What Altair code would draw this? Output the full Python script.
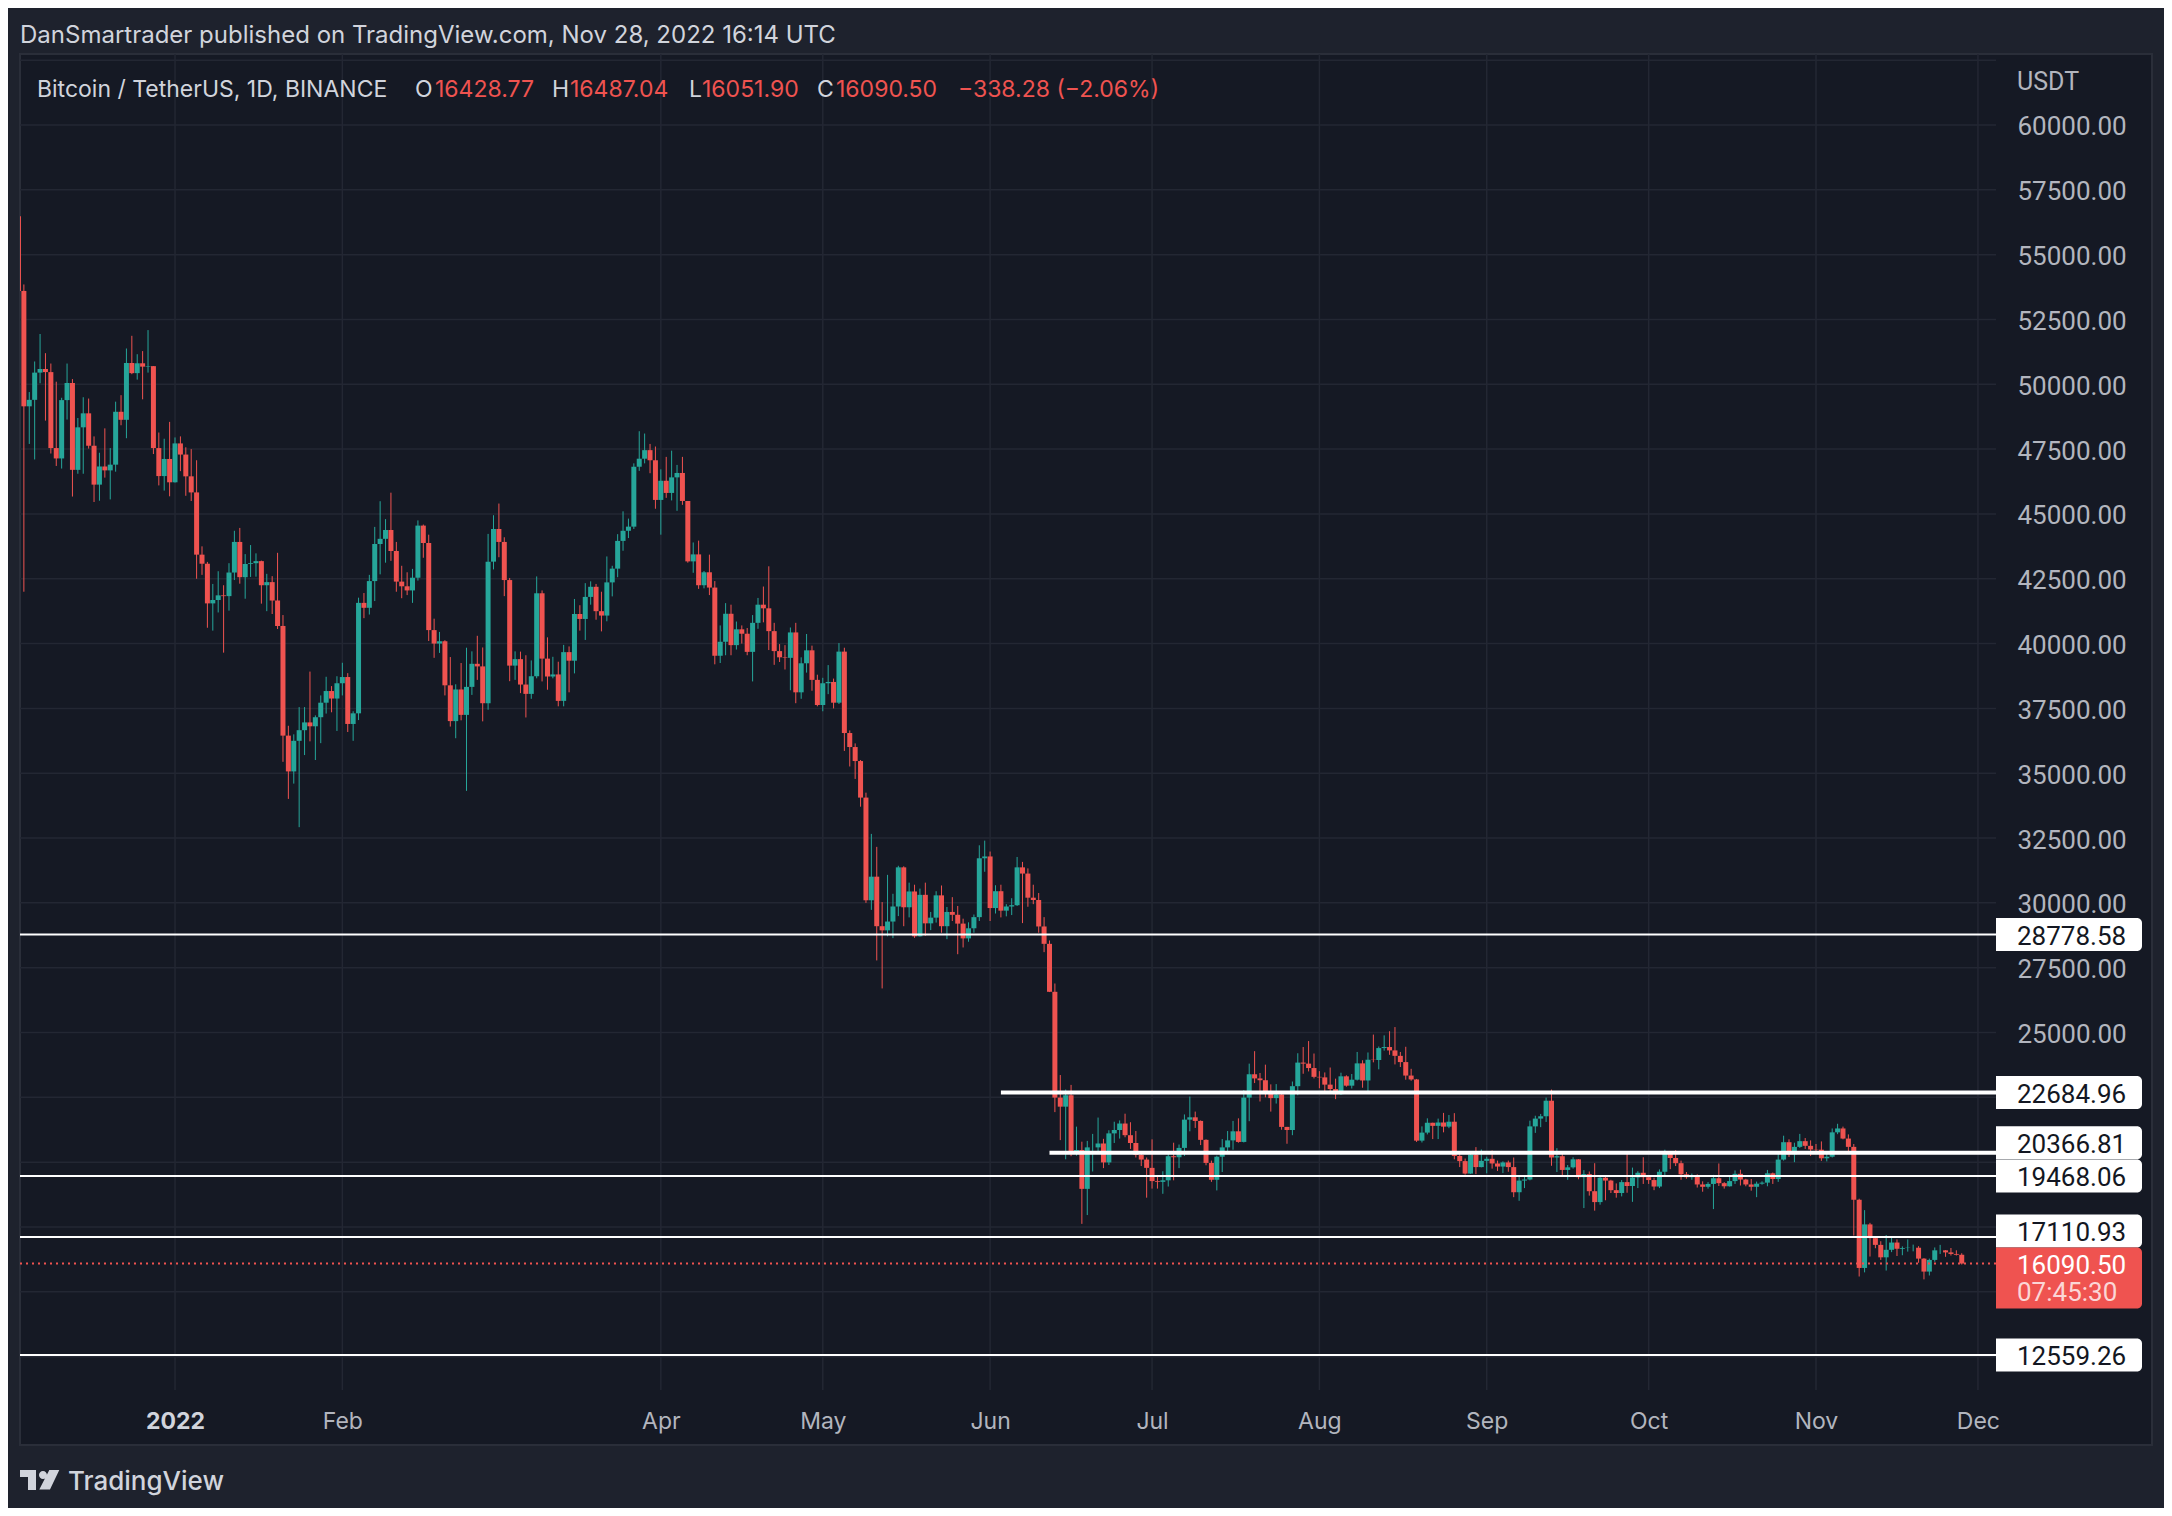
import altair as alt
import pandas as pd
import numpy as np

# ---------------- data ----------------
START = "2021-12-03"
OPEN0 = 56480.0
CLOSE = [
    # Dec 2021 (3-31)
    53600, 49150, 49400, 50450, 50590, 50470, 47540, 47140, 49390, 50050,
    46700, 48340, 48880, 47630, 46130, 46830, 46680, 46900, 48940, 48630,
    50820, 50430, 50810, 50680, 50700, 47540, 46460, 47120, 46220,
    # Jan 2022
    47720, 47290, 46450, 45830, 43430, 43080, 41550, 41680, 41860, 41830,
    42740, 43920, 42560, 43070, 43100, 43180, 42250, 42370, 41660, 40680,
    36450, 35070, 36250, 36660, 36960, 36810, 37160, 37720, 38170, 37880, 38470,
    # Feb
    38710, 36900, 37310, 41570, 41380, 42410, 43840, 44040, 44380, 43570,
    42390, 42210, 42050, 42540, 44550, 43880, 40520, 40000, 40090, 38390,
    37010, 38230, 37250, 38330, 39220, 39120, 37700, 43160,
    # Mar
    44420, 43920, 42450, 39150, 39400, 38420, 38060, 38740, 41940, 39420,
    38730, 38810, 37790, 39670, 39340, 41140, 40950, 41800, 42190, 41250,
    41080, 42360, 42890, 43960, 44350, 44510, 46820, 47130, 47460, 47070, 45540,
    # Apr
    46280, 45810, 46410, 46580, 45500, 43170, 43440, 42250, 42750, 42160,
    39530, 40070, 41150, 39940, 40550, 40380, 39680, 40800, 41500, 41360,
    40480, 39710, 39470, 39450, 40430, 38120, 39240, 39740, 38600, 37630,
    # May
    38470, 38520, 37720, 39690, 36550, 36010, 35470, 34060, 30100, 31010,
    29100, 28940, 29280, 29860, 31370, 29830, 30440, 28710, 30310, 29210,
    29430, 30290, 29100, 29650, 29540, 29200, 28630, 29020, 29450, 31720, 31790,
    # Jun
    29800, 30450, 29700, 29860, 29910, 31370, 31130, 30200, 30110, 29090,
    28420, 26570, 22490, 22140, 22580, 20400, 20470, 18970, 20570, 20570,
    20720, 19990, 21110, 21240, 21490, 21040, 20740, 20280, 20100, 19780,
    # Jul
    19270, 19240, 19300, 20230, 20190, 20550, 21640, 21730, 21590, 20860,
    19970, 19320, 20210, 20570, 20840, 21190, 20780, 22490, 23390, 23230,
    23160, 22710, 22470, 22610, 21360, 21240, 22930, 23840, 23800, 23630, 23290,
    # Aug
    23270, 22990, 22820, 22620, 23310, 22950, 23180, 23810, 23150, 23950,
    23940, 24400, 24440, 24310, 24100, 23860, 23340, 23190, 20830, 21140,
    21520, 21400, 21530, 21370, 21560, 20240, 20040, 19560, 20290, 19810, 20050,
    # Sep
    20130, 19950, 19830, 19990, 19810, 18840, 19290, 19330, 21380, 21680,
    21770, 22370, 20180, 20230, 19700, 19800, 20110, 19420, 19540, 18880,
    18460, 19400, 19290, 18920, 18810, 19230, 19080, 19410, 19590, 19420,
    # Oct
    19310, 19060, 19630, 20340, 20160, 19960, 19530, 19420, 19450, 19140,
    19050, 19160, 19380, 19190, 19070, 19270, 19550, 19330, 19140, 19050,
    19170, 19210, 19570, 19350, 20100, 20770, 20300, 20590, 20810, 20630, 20490,
    # Nov
    20480, 20150, 20210, 21150, 21300, 20910, 20590, 18550, 15920, 17600,
    17070, 16810, 16330, 16620, 16900, 16660, 16690, 16700, 16700, 16280,
    15780, 16230, 16600, 16600, 16520, 16460, 16428.77, 16090.50,
]
HIGH = [
    # Dec 2021
    57600, 53850, 49700, 50880, 51940, 51200, 50800, 50100, 49480, 50800,
    50200, 48700, 49500, 49450, 47990, 47360, 48300, 47540, 49330, 49580,
    51380, 51870, 51160, 51280, 52090, 50700, 48140, 47900, 48550,
    # Jan
    47950, 47990, 47570, 47500, 47070, 43750, 43150, 42300, 42790, 42250,
    43100, 44350, 44460, 43450, 43800, 43480, 43200, 42690, 42600, 43500,
    41100, 36830, 36500, 37550, 37550, 38920, 37230, 38000, 38720, 38360, 38740,
    # Feb
    39260, 38860, 37390, 41770, 41950, 42650, 44500, 45490, 44800, 45820,
    43920, 43000, 42750, 42880, 44750, 44590, 44200, 40960, 40450, 40130,
    39480, 38430, 39250, 39840, 39700, 40300, 39850, 44230,
    # Mar
    44950, 45400, 44100, 42530, 39700, 39690, 39550, 39350, 42590, 42050,
    40240, 39490, 39300, 39950, 39890, 41720, 41480, 42330, 42400, 42300,
    42000, 43360, 43000, 44220, 45100, 44820, 46950, 48190, 48100, 47700, 47600,
    # Apr
    46720, 47200, 47440, 46890, 47200, 45500, 43900, 43970, 42800, 43430,
    42410, 40700, 41560, 41500, 40850, 40700, 40600, 41100, 41760, 42200,
    42980, 40800, 39980, 39940, 40620, 40800, 39470, 40370, 39920, 38800,
    # May
    38680, 39170, 38650, 40020, 39840, 36650, 36150, 35510, 34250, 32660,
    32160, 30030, 31080, 30350, 31430, 31410, 30780, 30700, 30550, 30780,
    29650, 30450, 30670, 29840, 30220, 29880, 29390, 29250, 29550, 32220, 32400,
    # Jun
    31980, 30680, 30700, 29950, 30180, 31770, 31580, 31330, 30700, 30380,
    29450, 28550, 26890, 23360, 22800, 22980, 21370, 20790, 20820, 21090,
    21720, 20900, 21230, 21560, 21610, 21870, 21540, 21200, 20430, 20180,
    # Jul
    20880, 19440, 19650, 20350, 20750, 20680, 21840, 22530, 21950, 21610,
    20880, 20060, 20250, 20890, 21200, 21590, 21690, 22780, 23800, 24280,
    23440, 23760, 23000, 23010, 22670, 21360, 23110, 24200, 24440, 24670, 24190,
    # Aug
    23510, 23460, 23650, 23220, 23450, 23350, 23400, 24250, 23930, 24230,
    24920, 24460, 24890, 25050, 25210, 24250, 24450, 23600, 23210, 21380,
    21690, 21520, 21680, 21900, 21820, 21890, 20400, 20140, 20430, 20580, 20490,
    # Sep
    20210, 20450, 20060, 20030, 20060, 20180, 19460, 19450, 21600, 21790,
    21860, 22490, 22800, 20540, 20330, 19890, 20190, 20120, 19690, 19640,
    19960, 19500, 19500, 19320, 19180, 19310, 20390, 19790, 19650, 20190,
    # Oct
    19480, 19400, 19720, 20480, 20370, 20460, 20060, 19620, 19560, 19530,
    19260, 19230, 19510, 19950, 19230, 19430, 19680, 19710, 19360, 19350,
    19250, 19260, 19700, 19600, 20420, 21020, 20880, 20750, 21090, 20930, 20840,
    # Nov
    20700, 20800, 20390, 21300, 21480, 21370, 21070, 20700, 18590, 18150,
    17660, 17150, 16950, 17190, 17130, 17020, 16750, 17020, 16820, 16760,
    16300, 16280, 16710, 16810, 16610, 16690, 16600, 16487.04,
]
LOW = [
    # Dec 2021
    51680, 42000, 47700, 47100, 50040, 48600, 47330, 46850, 46750, 48640,
    45670, 46550, 46550, 47520, 45460, 45510, 46400, 45560, 46630, 48420,
    47920, 50390, 50180, 49420, 50450, 47310, 46100, 45900, 45680,
    # Jan
    46210, 46650, 45700, 45500, 42500, 42650, 40610, 40500, 41200, 39650,
    41270, 42450, 42310, 41730, 42570, 42580, 41540, 41250, 41140, 40560,
    35440, 34010, 34600, 32920, 35700, 36230, 35510, 36160, 37300, 37350, 36630,
    # Feb
    38000, 36590, 36250, 37050, 40980, 41120, 41640, 42670, 43120, 43190,
    42000, 41750, 41870, 41570, 42430, 43310, 40100, 39450, 39640, 38000,
    36800, 36350, 37040, 34320, 38020, 38600, 37000, 37450,
    # Mar
    42860, 43330, 41830, 38550, 38600, 38090, 37150, 37870, 38660, 38540,
    38220, 38660, 37580, 37580, 38120, 38850, 40500, 40140, 41500, 40920,
    40470, 40860, 41820, 42560, 43580, 44070, 44420, 46660, 46950, 46570, 45200,
    # Apr
    44200, 45620, 45520, 45120, 45350, 43120, 42730, 42110, 42130, 41870,
    39200, 39250, 39550, 39550, 39770, 40000, 39550, 38540, 40570, 40820,
    39750, 39180, 39290, 39000, 38200, 37700, 37870, 38880, 38180, 37580,
    # May
    37390, 38050, 37500, 37670, 35860, 35260, 34780, 33710, 30000, 29730,
    27780, 26700, 28710, 28640, 29490, 29100, 29440, 28650, 28700, 28730,
    28950, 29240, 28850, 28600, 29300, 28020, 28280, 28500, 28850, 29300, 31200,
    # Jun
    29300, 29590, 29440, 29480, 29530, 29880, 29220, 29850, 29950, 28850,
    28100, 26560, 21930, 20850, 20110, 20230, 20250, 17620, 17960, 19640,
    20350, 19770, 19890, 20740, 20910, 20960, 20510, 20180, 19850, 18630,
    # Jul
    18980, 18980, 18780, 19060, 19300, 19770, 20240, 21190, 21320, 20660,
    19880, 19240, 18910, 19620, 20390, 20480, 20750, 20760, 21580, 23050,
    22340, 22500, 21950, 22260, 21250, 20710, 21040, 22580, 23410, 23500, 23230,
    # Aug
    22850, 22660, 22680, 22430, 22590, 22910, 22840, 23150, 22870, 22660,
    23850, 23580, 24300, 24140, 23770, 23670, 23180, 23140, 20780, 20760,
    21070, 20890, 20890, 21150, 21310, 20110, 19810, 19520, 19550, 19540, 19800,
    # Sep
    19570, 19750, 19660, 19580, 19630, 18650, 18510, 19000, 19300, 21130,
    21350, 21550, 19860, 19620, 19500, 19320, 19750, 19340, 18230, 18710,
    18130, 18360, 18530, 18810, 18630, 18680, 18820, 18470, 19000, 19160,
    # Oct
    19160, 18920, 19000, 19490, 19730, 19850, 19320, 19360, 19320, 19020,
    18860, 18980, 18190, 19080, 18980, 19060, 19160, 19100, 19070, 18900,
    18650, 19130, 19070, 19160, 19240, 20060, 20200, 20000, 20550, 20510, 20240,
    # Nov
    20330, 20050, 20030, 20180, 21080, 20880, 20380, 17170, 15590, 15750,
    16360, 16680, 16230, 15820, 16530, 16380, 16410, 16550, 16560, 16120,
    15480, 15630, 16160, 16460, 16350, 16400, 16400, 16051.90,
]

LEVELS = [28778.58, 22684.96, 20366.81, 19468.06, 17110.93, 12559.26]
LEVEL_FROM = [None, "2022-06-03", "2022-06-12", None, None, None]

GRID_PRICES = [12500, 15000, 17500, 20000, 22500, 25000, 27500, 30000, 32500, 35000,
               37500, 40000, 42500, 45000, 47500, 50000, 52500, 55000, 57500, 60000, 62500]
LABEL_PRICES = [25000, 27500, 30000, 32500, 35000, 37500, 40000, 42500, 45000,
                47500, 50000, 52500, 55000, 57500, 60000]
MONTH_TICKS = ["2022-01-01", "2022-02-01", "2022-04-01", "2022-05-01", "2022-06-01",
               "2022-07-01", "2022-08-01", "2022-09-01", "2022-10-01", "2022-11-01",
               "2022-12-01"]

HEADER = "DanSmartrader published on TradingView.com, Nov 28, 2022 16:14 UTC"
SYMBOL = "Bitcoin / TetherUS, 1D, BINANCE"
CHANGE_TEXT = "\u2212338.28 (\u22122.06%)"
COUNTDOWN = "07:45:30"
CURRENCY = "USDT"
BRAND = "TradingView"

# ---------------- styling ----------------
FONT = "Inter"
NUMFONT = "Roboto"
NUMSIZE = 26
TXT = "#d1d4dc"
AXIS_TXT = "#b2b5be"
GREEN = "#26a69a"
RED = "#ef5350"
PANE = "#151924"
OUTER = "#1e222d"
GRID = "#232733"
BORDER = "#2a2e39"
PLOT_W = 1976
PLOT_H = 1334
LOGO_PATH = ("M -1 -0.513 L -0.179 -0.513 L -0.179 0.513 L -0.590 0.513 L -0.590 -0.154 "
             "L -1 -0.154 Z M 0.503 -0.513 L 1.015 -0.513 L 0.538 0.487 L -0.010 0.487 Z "
             "M 0.384 -0.256 A 0.205 0.205 0 1 1 -0.026 -0.256 "
             "A 0.205 0.205 0 1 1 0.384 -0.256 Z")


def ms(s):
    return int(pd.Timestamp(s, tz="UTC").value // 10**6)


dates = pd.date_range(START, periods=len(CLOSE), freq="D", tz="UTC")
opens = [OPEN0] + CLOSE[:-1]
df = pd.DataFrame({
    "t": dates.asi8 // 10**6,
    "open": opens, "high": HIGH, "low": LOW, "close": CLOSE,
})
df["dir"] = np.where(df["close"] >= df["open"], "up", "down")

XS = alt.Scale(type="utc", nice=False, padding=0, domain=[
    alt.DateTime(year=2021, month=12, date=3, hours=6, minutes=48, utc=True),
    alt.DateTime(year=2022, month=12, date=4, hours=8, minutes=18, utc=True)])
YS = alt.Scale(domain=[11213, 62661], zero=False, nice=False, padding=0)

AX_X = alt.Axis(
    values=[alt.DateTime(year=int(m[:4]), month=int(m[5:7]), date=1, utc=True) for m in MONTH_TICKS],
    labelExpr="utcFormat(datum.value, '%b') == 'Jan' ? utcFormat(datum.value, '%Y') : utcFormat(datum.value, '%b')",
    grid=False, domain=False, ticks=False, labelPadding=20, labelFontSize=23,
    labelFont=FONT, labelColor={"condition": {"test": "utcmonth(datum.value) == 0", "value": TXT}, "value": AXIS_TXT},
    labelFontWeight={"condition": {"test": "utcmonth(datum.value) == 0", "value": "bold"}, "value": "normal"},
    labelOverlap=False, labelFlush=False, labelBound=False, title=None, zindex=2)
AX_Y = alt.Axis(
    orient="right", values=LABEL_PRICES, format=".2f", grid=False, domain=False, ticks=False,
    labelPadding=21, labelAlign="left", labelBaseline="middle", labelFontSize=NUMSIZE,
    labelOffset=2, labelFont=NUMFONT, labelColor=AXIS_TXT, labelOverlap=False, labelFlush=False,
    labelBound=False, title=None, zindex=2)

X = lambda f: alt.X(f, scale=XS, axis=AX_X, title=None)
Y = lambda f: alt.Y(f, scale=YS, axis=AX_Y, title=None)

ONE = pd.DataFrame({"k": [0]})


def txt(s, x, y, size, color, align="left", baseline="alphabetic", weight="normal", font=FONT):
    return alt.Chart(ONE).mark_text(
        text=s, align=align, baseline=baseline, fontSize=size, color=color,
        font=font, fontWeight=weight).encode(x=alt.value(x), y=alt.value(y))


pane = alt.Chart(ONE).mark_rect(color=PANE, stroke=BORDER, strokeWidth=2).encode(
    x=alt.value(0), x2=alt.value(2132), y=alt.value(-2), y2=alt.value(1389))

hgrid = alt.Chart(pd.DataFrame({"p": GRID_PRICES})).mark_rule(
    color=GRID, strokeWidth=1.5).encode(y=Y("p:Q"), x=alt.value(0), x2=alt.value(PLOT_W))
vgrid = alt.Chart(pd.DataFrame({"t": [ms(m) for m in MONTH_TICKS]})).mark_rule(
    color=GRID, strokeWidth=1.5).encode(x=X("t:T"), y=alt.value(-2), y2=alt.value(PLOT_H))

color = alt.Color("dir:N", scale=alt.Scale(domain=["up", "down"], range=[GREEN, RED]), legend=None)
base = alt.Chart(df)
wicks = base.mark_rule(strokeWidth=1, clip=True).encode(
    x=X("t:T"), y=Y("low:Q"), y2="high:Q", color=color)
bodies = base.mark_bar(size=5, clip=True).encode(
    x=X("t:T"), y=Y("open:Q"), y2="close:Q", color=color)

lv = pd.DataFrame({"p": LEVELS, "lab": [f"{v:.2f}" for v in LEVELS],
                   "t0": [ms(s) if s else None for s in LEVEL_FROM]})
full_lv = lv[lv["t0"].isna()]
part_lv = lv[lv["t0"].notna()]
lines_full = alt.Chart(full_lv).mark_rule(color="white", strokeWidth=2).encode(
    y=Y("p:Q"), x=alt.value(0), x2=alt.value(PLOT_W))
lines_part = alt.Chart(part_lv).mark_rule(color="white", strokeWidth=4).encode(
    y=Y("p:Q"), x=X("t0:T"), x2=alt.value(PLOT_W))

CUR = CLOSE[-1]
cur_df = pd.DataFrame({"p": [CUR], "lab": [f"{CUR:.2f}"]})
cur_line = alt.Chart(cur_df).mark_rule(color=RED, strokeWidth=2, strokeDash=[2, 4]).encode(
    y=Y("p:Q"), x=alt.value(0), x2=alt.value(PLOT_W))

NUDGE = {20366.81: -10, 17110.93: -6}
box_layers = []
for _, r in lv.iterrows():
    off = NUDGE.get(r["p"], 0)
    d = pd.DataFrame({"p": [r["p"]], "lab": [r["lab"]]})
    box_layers.append(alt.Chart(d).mark_rect(
        color="white", cornerRadiusTopRight=5, cornerRadiusBottomRight=5,
        yOffset=off - 16.5, y2Offset=off + 16.5).encode(
        y=Y("p:Q"), y2="p:Q", x=alt.value(1976), x2=alt.value(2122)))
    box_layers.append(alt.Chart(d).mark_text(
        align="left", baseline="middle", fontSize=NUMSIZE, font=NUMFONT, color="#131722",
        dy=off + 2).encode(y=Y("p:Q"), x=alt.value(1997), text="lab:N"))

cur_box = alt.Chart(cur_df).mark_rect(
    color=RED, cornerRadiusTopRight=5, cornerRadiusBottomRight=5,
    yOffset=-16, y2Offset=45).encode(y=Y("p:Q"), y2="p:Q", x=alt.value(1976), x2=alt.value(2122))
cur_txt = alt.Chart(cur_df).mark_text(
    align="left", baseline="middle", fontSize=NUMSIZE, font=NUMFONT, color="white", dy=2).encode(
    y=Y("p:Q"), x=alt.value(1997), text="lab:N")
cur_time = alt.Chart(cur_df).mark_text(
    align="left", baseline="middle", fontSize=NUMSIZE, font=NUMFONT, color="#fbd6d6", dy=29,
    text=COUNTDOWN).encode(y=Y("p:Q"), x=alt.value(1997))

logo = alt.Chart(ONE).mark_point(
    shape=LOGO_PATH, size=1521, filled=True, color=TXT, opacity=1, strokeWidth=0).encode(
    x=alt.value(19.5), y=alt.value(1424))

o_, h_, l_, c_ = df["open"].iloc[-1], df["high"].iloc[-1], df["low"].iloc[-1], df["close"].iloc[-1]
texts = [
    txt(HEADER, 0, -13, 24, TXT),
    txt(SYMBOL, 17, 41, 23, TXT),
    txt("O", 395, 41, 23, TXT), txt(f"{o_:.2f}", 415, 41, 23, RED),
    txt("H", 532, 41, 23, TXT), txt(f"{h_:.2f}", 550, 41, 23, RED),
    txt("L", 669, 41, 23, TXT), txt(f"{l_:.2f}", 682, 41, 23, RED),
    txt("C", 797, 41, 23, TXT), txt(f"{c_:.2f}", 816, 41, 23, RED),
    txt(CHANGE_TEXT, 938, 41, 23, RED),
    txt(CURRENCY, 1997, 26, 25, AXIS_TXT, baseline="middle", font=NUMFONT),
    txt(BRAND, 48, 1434, 26, TXT, weight=500),
]

chart = alt.layer(
    pane, hgrid, vgrid, wicks, bodies, lines_full, lines_part, cur_line,
    *box_layers, cur_box, cur_txt, cur_time, logo, *texts
).properties(
    width=PLOT_W, height=PLOT_H,
    autosize=alt.AutoSizeParams(type="none"),
    padding={"left": 12, "top": 48, "right": 168, "bottom": 118},
    background=OUTER,
).configure_view(stroke=None)

chart.save("out.html", embed_options={"renderer": "svg", "actions": False})
